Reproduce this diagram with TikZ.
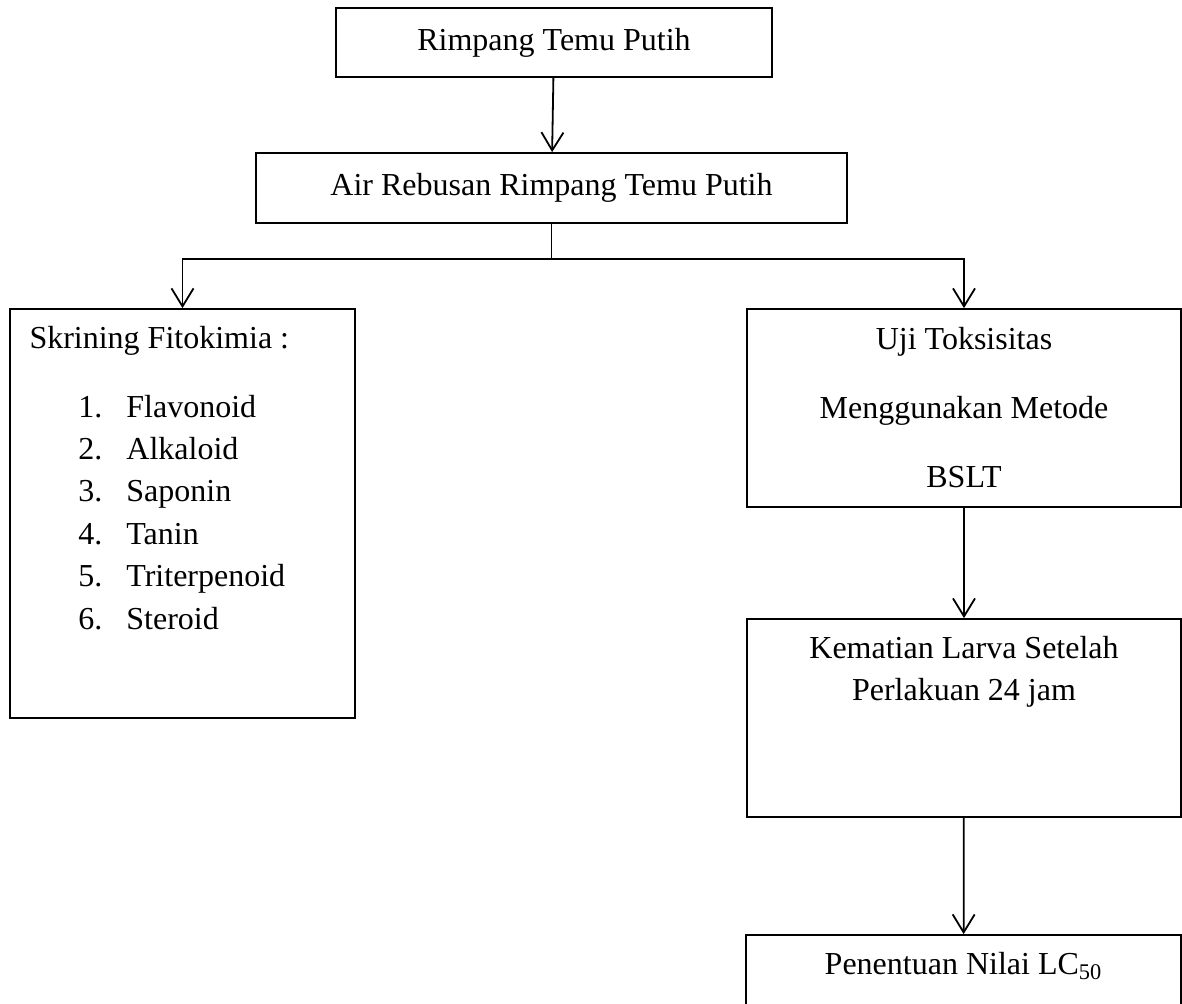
\documentclass[tikz,border=0pt]{standalone}
\usepackage{fontspec}
\setmainfont{Liberation Serif}
\usepackage{tikz}
\usetikzlibrary{positioning,arrows.meta}

\tikzset{
  kotak/.style={draw, line width=0.9pt, inner sep=0pt},
  tulisan/.style={inner sep=0pt, font=\fontsize{16}{21}\selectfont},
  panah/.style={line width=0.9pt, -{Straight Barb[length=9pt,width=11pt]}},
}

\begin{document}
\begin{tikzpicture}[x=0.5pt,y=-0.5pt]
\useasboundingbox (0,0) rectangle (1182,1003);

\node[kotak, tulisan, minimum width=218pt, minimum height=34.5pt] (rimpang) at (554,42.5) {Rimpang Temu Putih};
\node[kotak, tulisan, minimum width=295.5pt, minimum height=35pt] (air) at (551.5,188) {Air Rebusan Rimpang Temu Putih};

% kolom kiri
\node[kotak, minimum width=172.5pt, minimum height=204.5pt] (skr) at (182.5,513.5) {};
\node[tulisan, below right=9pt and 10pt of skr.north west] (judul) {Skrining Fitokimia :};
\node[tulisan, font=\fontsize{16}{21.2}\selectfont, anchor=base west] (daftar) at (78,417) {%
  \begin{tabular}[t]{@{}l@{\hspace{12pt}}l@{}}
  1. & Flavonoid\\
  2. & Alkaloid\\
  3. & Saponin\\
  4. & Tanin\\
  5. & Triterpenoid\\
  6. & Steroid
  \end{tabular}};

% kolom kanan
\node[kotak, tulisan, align=center, font=\fontsize{16}{34.5}\selectfont, minimum width=217pt, minimum height=99pt] (uji) at (964,408) {Uji Toksisitas\\Menggunakan Metode\\BSLT};
\node[kotak, minimum width=217pt, minimum height=99pt] (kem) at (964,718) {};
\node[tulisan, align=center, below=9pt of kem.north] (kemtxt) {Kematian Larva Setelah\\Perlakuan 24 jam};
\node[kotak, minimum width=217.5pt, minimum height=70pt] (nilai) at (963.5,1005) {};
\node[tulisan, below=9pt of nilai.north] (nilaitxt) {Penentuan Nilai LC\textsubscript{50}};

\draw[panah] (rimpang) -- (air);
\draw[line width=0.9pt] (air.south) -- ++(0,35) coordinate (cabang);
\draw[panah] (cabang) -| (skr.north);
\draw[panah] (cabang) -| (uji.north);
\draw[panah] (uji) -- (kem);
\draw[panah] (kem) -- (nilai);
\end{tikzpicture}
\end{document}
